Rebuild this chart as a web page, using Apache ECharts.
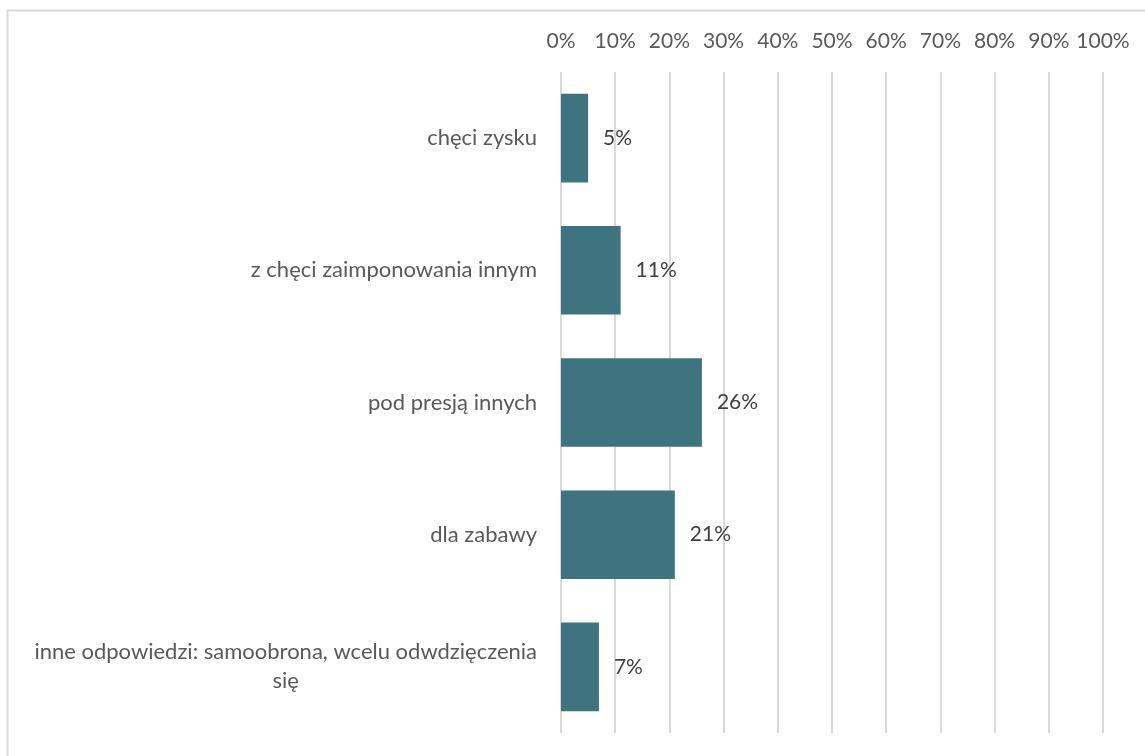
<!DOCTYPE html>
<html>
<head>
<meta charset="utf-8">
<script src="https://cdn.jsdelivr.net/npm/echarts@6/dist/echarts.min.js"></script>
<style>
html,body{margin:0;padding:0;background:#fff;}
#chart{width:1145px;height:756px;}
</style>
</head>
<body>
<div id="chart"></div>
<script>
const categories = [
  "chęci zysku",
  "z chęci zaimponowania innym",
  "pod presją innych",
  "dla zabawy",
  "inne odpowiedzi: samoobrona, wcelu odwdzięczenia się"
];
const values = [5, 11, 26, 21, 7];
const tickValues = [0, 10, 20, 30, 40, 50, 60, 70, 80, 90, 100];

const FONT = 'Lato';
const chart = echarts.init(document.getElementById('chart'));
chart.setOption({
  animation: false,
  backgroundColor: '#ffffff',
  graphic: [{
    type: 'rect',
    shape: { x: 7.5, y: 10.5, width: 1200, height: 800 },
    style: { fill: 'none', stroke: '#d9d9d9', lineWidth: 2 },
    silent: true
  }],
  grid: { left: 561, right: 42, top: 72, bottom: 23, containLabel: false },
  xAxis: {
    type: 'value',
    position: 'top',
    min: 0, max: 100, interval: 10,
    axisLine: { show: false },
    axisTick: { show: false },
    splitLine: { show: true, lineStyle: { color: '#d9d9d9', width: 2 } },
    axisLabel: {
      margin: 20,
      color: '#595959',
      fontFamily: FONT,
      fontSize: 21,
      formatter: v => v + '%'
    }
  },
  yAxis: {
    type: 'category',
    inverse: true,
    data: categories,
    axisLine: { show: false },
    axisTick: { show: false },
    axisLabel: {
      margin: 24,
      color: '#595959',
      fontFamily: FONT,
      fontSize: 22,
      lineHeight: 29,
      formatter: function (v) {
        if (v.length > 40) {
          const idx = v.lastIndexOf(' ');
          return '{c|' + v.slice(0, idx) + '}\n{c|' + v.slice(idx + 1) + '}';
        }
        return v;
      },
      rich: {
        c: { align: 'center', color: '#595959', fontFamily: FONT, fontSize: 22, lineHeight: 29 }
      }
    }
  },
  series: [{
    type: 'bar',
    data: values,
    barCategoryGap: '33%',
    itemStyle: { color: '#3e7380' },
    label: {
      show: true,
      position: 'right',
      distance: 15,
      color: '#404040',
      fontFamily: FONT,
      fontSize: 21,
      formatter: p => p.value + '%'
    }
  }]
});
</script>
</body>
</html>
